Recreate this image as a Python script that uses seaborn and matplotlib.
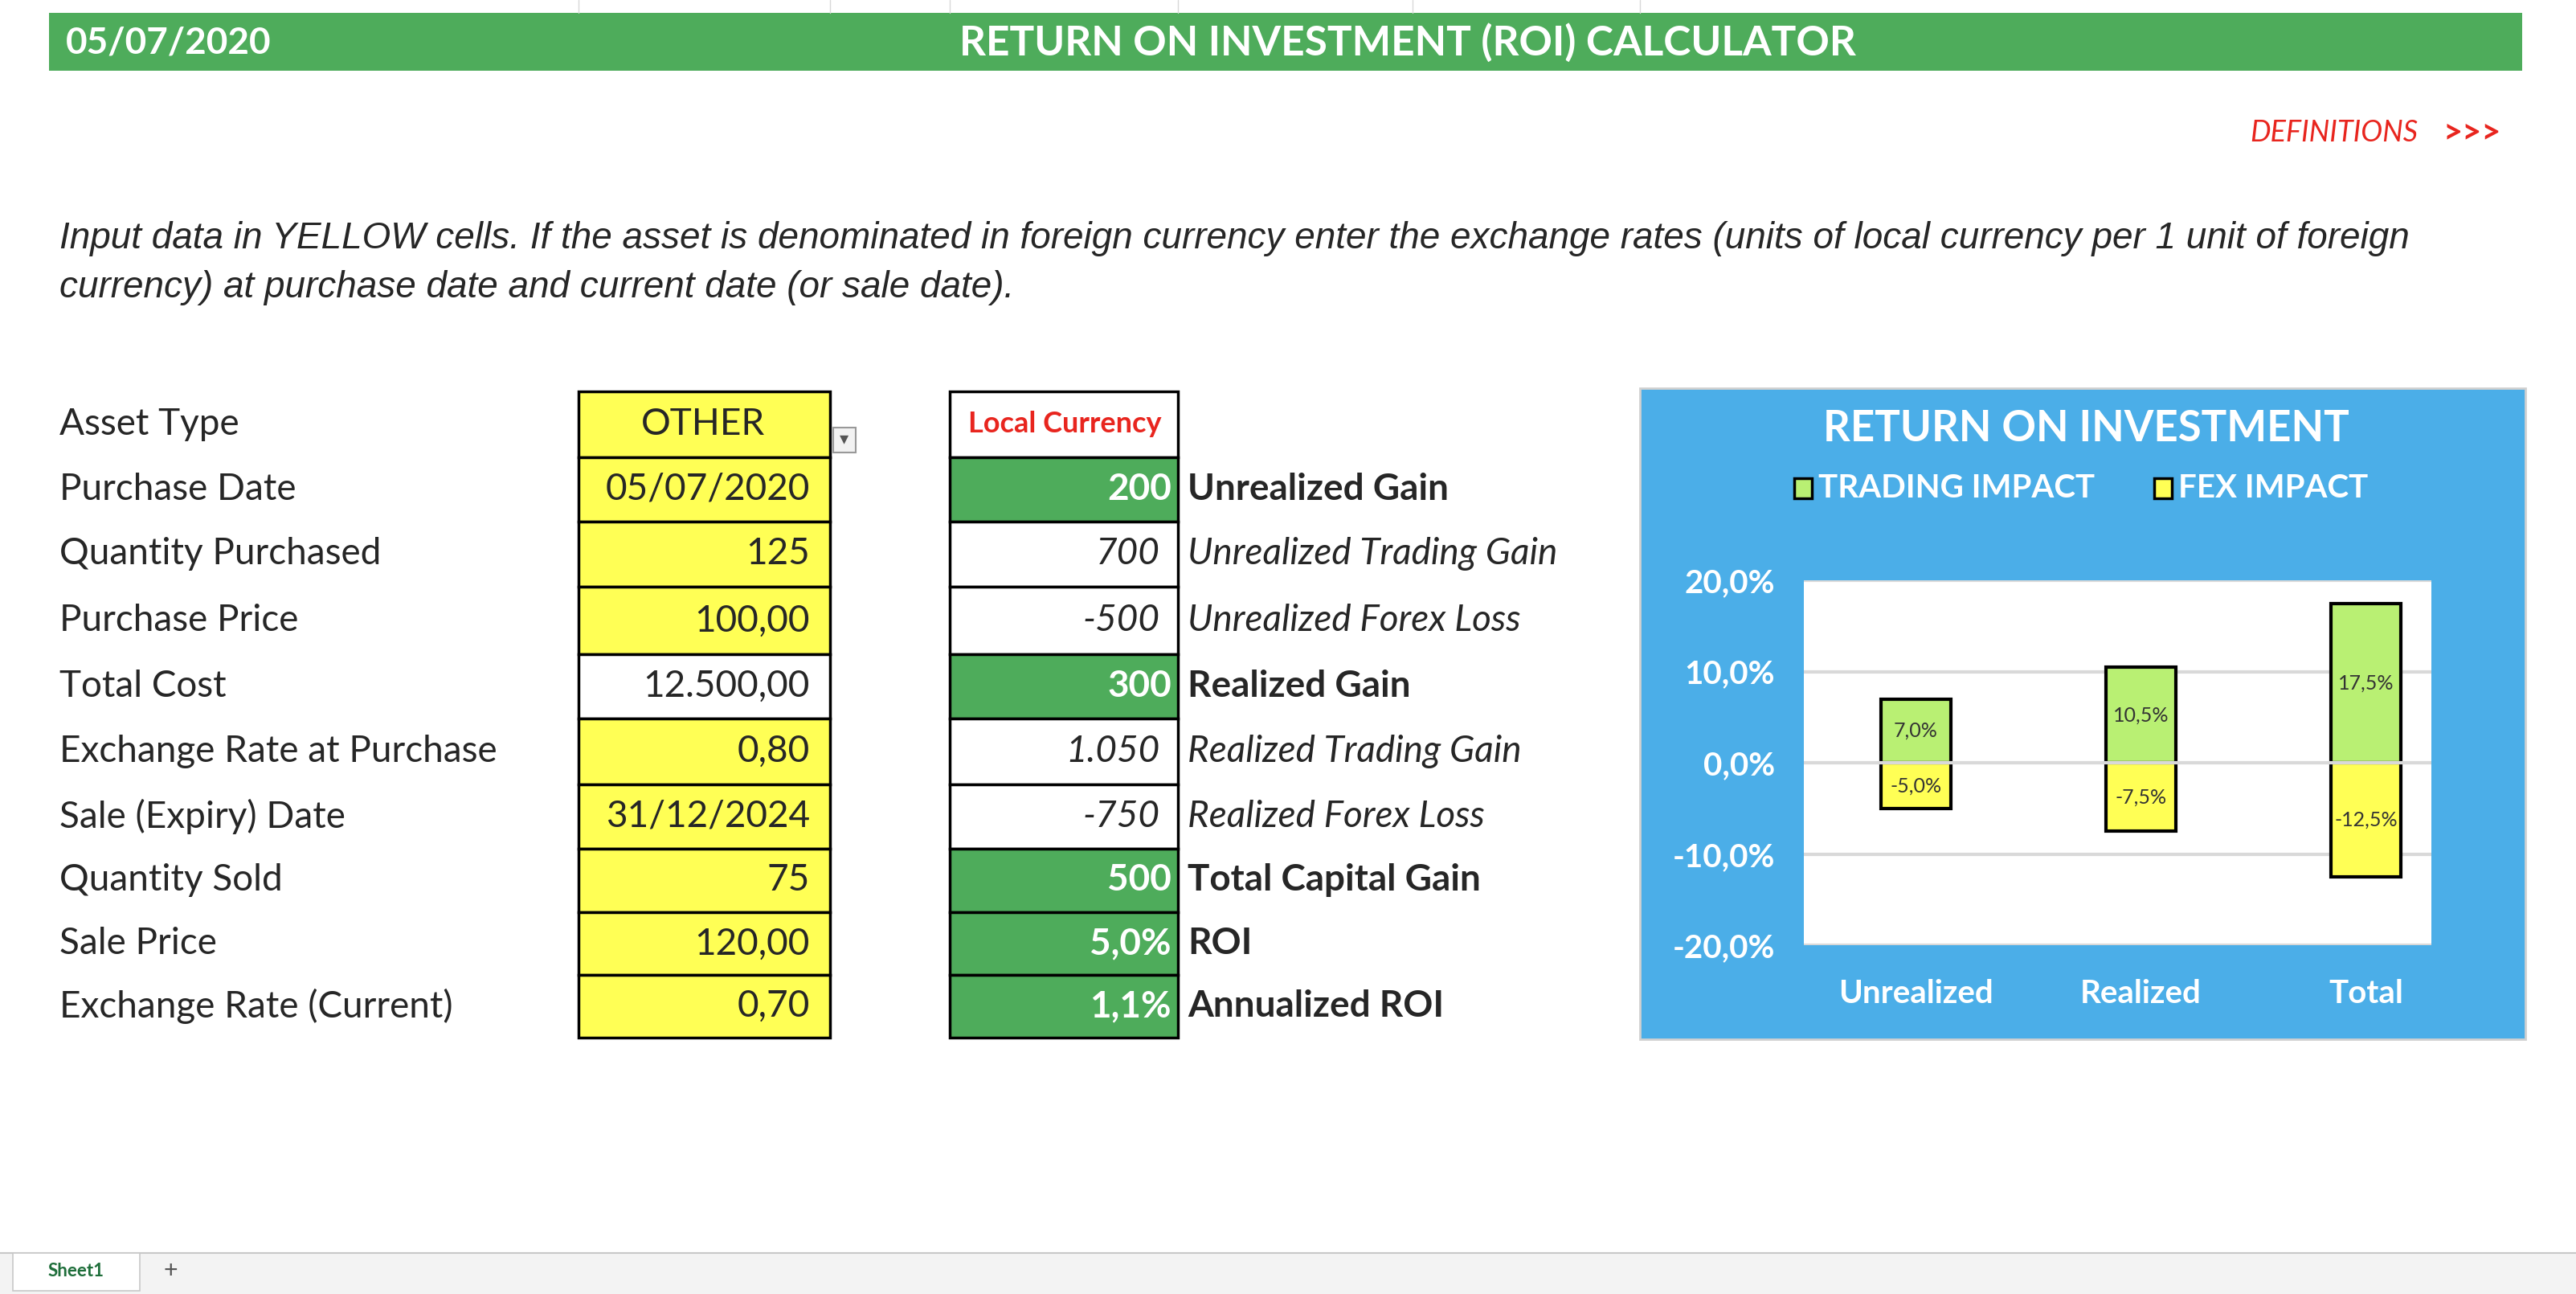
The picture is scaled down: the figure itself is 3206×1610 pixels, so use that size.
import matplotlib
matplotlib.use("Agg")
import matplotlib.pyplot as plt
from matplotlib.patches import Rectangle
import seaborn as sns
import pandas as pd

# ---- data ----
report_date = "05/07/2020"
title = "RETURN ON INVESTMENT (ROI) CALCULATOR"
instructions = ["Input data in YELLOW cells. If the asset is denominated in foreign currency enter the exchange rates (units of local currency per 1 unit of foreign",
                "currency) at purchase date and current date (or sale date)."]

input_labels = ["Asset Type", "Purchase Date", "Quantity Purchased", "Purchase Price", "Total Cost",
                "Exchange Rate at Purchase", "Sale (Expiry) Date", "Quantity Sold", "Sale Price",
                "Exchange Rate (Current)"]
input_values = ["OTHER", "05/07/2020", "125", "100,00", "12.500,00", "0,80", "31/12/2024", "75", "120,00", "0,70"]
input_is_yellow = [True, True, True, True, False, True, True, True, True, True]

result_values = ["Local Currency", "200", "700", "-500", "300", "1.050", "-750", "500", "5,0%", "1,1%"]
result_labels = ["", "Unrealized Gain", "Unrealized Trading Gain", "Unrealized Forex Loss", "Realized Gain",
                 "Realized Trading Gain", "Realized Forex Loss", "Total Capital Gain", "ROI", "Annualized ROI"]
result_kind = ["head", "green", "italic", "italic", "green", "italic", "italic", "green", "green", "green"]

chart_cats = ["Unrealized", "Realized", "Total"]
trading_impact = [7.0, 10.5, 17.5]
fex_impact = [-5.0, -7.5, -12.5]

# ---- layout helpers (reference drawn at 1568 x 787) ----
W, H = 1568.0, 787.0
def fx(x): return x / W
def fy(y): return 1 - y / H

GREEN = "#4EAC5B"
YELLOW = "#FFFF55"
BLUE = "#4BAEE8"
BAR_GREEN = "#B9F073"
BAR_YELLOW = "#FFFF55"
FONT = ["Lato", "DejaVu Sans"]
FS = 33

sns.set_theme(style="white")
plt.rcParams["font.family"] = FONT

fig = plt.figure(figsize=(32.06, 16.10), dpi=100)

def rect(x0, y0, x1, y1, fc, ec="none", lw=0, z=1):
    fig.patches.append(Rectangle((fx(x0), fy(y1)), fx(x1) - fx(x0), fy(y0) - fy(y1),
                                 transform=fig.transFigure, facecolor=fc, edgecolor=ec, linewidth=lw, zorder=z))

# faint spreadsheet gridlines at top
for gx in [352, 505, 578, 717, 860, 998]:
    fig.add_artist(plt.Line2D([fx(gx), fx(gx)], [fy(0), fy(8)], color="#d8d8d8", lw=1))

# header bar
rect(30, 8, 1535, 43, GREEN)
fig.text(fx(40), fy(26), report_date, color="white", fontsize=33, fontweight="bold", va="center")
fig.text(fx(857), fy(26), title, color="white", fontsize=37, fontweight="bold", va="center", ha="center")

# definitions link
fig.text(fx(1472), fy(81), "DEFINITIONS", color="#E8251E", fontsize=26, style="italic", ha="right", va="center")
fig.text(fx(1487), fy(81), ">>>", color="#E8251E", fontsize=30, fontweight="bold", ha="left", va="center")

# instructions
for i, line in enumerate(instructions):
    fig.text(fx(36), fy(145 + 30 * i), line, fontsize=33, style="italic", va="center",
             family=["Liberation Sans", "DejaVu Sans"])

# tables
bounds = [238, 278, 317, 357, 398, 437, 477, 516, 555, 593, 631]
for i in range(len(input_labels)):
    y0, y1 = bounds[i], bounds[i + 1]
    yc = (y0 + y1) / 2
    fig.text(fx(36), fy(yc), input_labels[i], fontsize=FS, va="center")
    rect(352, y0, 505, y1, YELLOW if input_is_yellow[i] else "white", "black", 2.5, z=2)
    if i == 0:
        fig.text(fx(428), fy(yc), input_values[i], fontsize=FS, va="center", ha="center")
    else:
        fig.text(fx(493), fy(yc), input_values[i], fontsize=FS, va="center", ha="right")

    kind = result_kind[i]
    fc = GREEN if kind == "green" else "white"
    rect(578, y0, 717, y1, fc, "black", 2.5, z=2)
    if kind == "head":
        fig.text(fx(648), fy(yc), result_values[i], fontsize=26, color="#E8251E", fontweight="bold",
                 va="center", ha="center")
    elif kind == "green":
        fig.text(fx(713), fy(yc), result_values[i], fontsize=FS, color="white", fontweight="bold",
                 va="center", ha="right")
        fig.text(fx(723), fy(yc), result_labels[i], fontsize=FS, fontweight="bold", va="center")
    else:
        fig.text(fx(706), fy(yc), result_values[i], fontsize=FS, style="italic", va="center", ha="right")
        fig.text(fx(723), fy(yc), result_labels[i], fontsize=FS, style="italic", va="center")

# dropdown marker
rect(507, 260, 521, 275, "#f2f2f2", "#999999", 1.5, z=3)
fig.text(fx(514), fy(267), "▾", fontsize=16, color="#555555", ha="center", va="center", zorder=4)

# chart background
rect(998, 236, 1537, 632, BLUE, "#d0d0d0", 2, z=0)
fig.text(fx(1270), fy(261), "RETURN ON INVESTMENT", color="white", fontsize=38, fontweight="bold",
         ha="center", va="center")
rect(1092, 291, 1103, 303, BAR_GREEN, "black", 2.5, z=3)
fig.text(fx(1107), fy(297), "TRADING IMPACT", color="white", fontsize=29, fontweight="bold", va="center")
rect(1311, 291, 1322, 303, BAR_YELLOW, "black", 2.5, z=3)
fig.text(fx(1326), fy(297), "FEX IMPACT", color="white", fontsize=29, fontweight="bold", va="center")

ax = fig.add_axes([fx(1098), fy(575), fx(1480) - fx(1098), fy(353) - fy(575)])
ax.set_zorder(5)
ax.set_facecolor("white")
df = pd.DataFrame({"cat": chart_cats, "trading": trading_impact, "fex": fex_impact})
sns.barplot(data=df, x="cat", y="trading", color=BAR_GREEN, saturation=1, width=0.31,
            edgecolor="black", linewidth=3, ax=ax, zorder=3)
sns.barplot(data=df, x="cat", y="fex", color=BAR_YELLOW, saturation=1, width=0.31,
            edgecolor="black", linewidth=3, ax=ax, zorder=3)
ax.set_xlim(-0.496, 2.29)
ax.set_ylim(-20, 20)
ax.set_yticks([-20, -10, 0, 10, 20])
ax.set_yticklabels(["-20,0%", "-10,0%", "0,0%", "10,0%", "20,0%"])
for v in [-20, -10, 0, 10, 20]:
    ax.axhline(v, color="#d9d9d9", lw=3, zorder=4 if v == 0 else 1)
for s in ax.spines.values():
    s.set_visible(False)
ax.tick_params(axis="y", length=0, colors="white", labelsize=29, pad=26)
ax.tick_params(axis="x", length=0, colors="white", labelsize=29, pad=30)
for lab in ax.get_xticklabels() + ax.get_yticklabels():
    lab.set_fontweight("bold")
ax.set_xlabel("")
ax.set_ylabel("")
for i, (t, f) in enumerate(zip(trading_impact, fex_impact)):
    ax.text(i, t / 2, f"{t:.1f}%".replace(".", ","), ha="center", va="center", fontsize=18, color="#333333", zorder=5)
    ax.text(i, f / 2, f"{f:.1f}%".replace(".", ","), ha="center", va="center", fontsize=18, color="#333333", zorder=5)

# sheet tab bar
rect(0, 762, 1568, 787, "#f3f3f3")
fig.add_artist(plt.Line2D([0, 1], [fy(762), fy(762)], color="#c8c8c8", lw=1.5))
rect(8, 762, 85, 785, "white", "#c8c8c8", 1.2, z=2)
fig.text(fx(46), fy(773), "Sheet1", fontsize=16, color="#1E6E3A", fontweight="bold", ha="center", va="center")
fig.text(fx(104), fy(773), "+", fontsize=22, color="#555555", ha="center", va="center")

fig.savefig("out.png", dpi=100)
